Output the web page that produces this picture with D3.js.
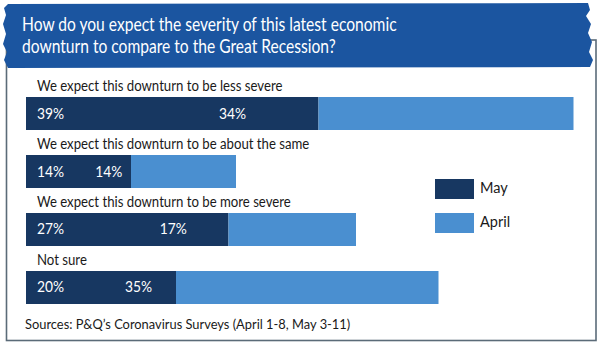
<!DOCTYPE html>
<html>
<head>
<meta charset="utf-8">
<script src="https://cdn.jsdelivr.net/npm/d3@7"></script>
<style>
  body { margin: 0; background: #fff; }
  text { font-family: Lato, "Open Sans", sans-serif; }
</style>
</head>
<body>
<div id="chart-area"></div>
<script>
// chart data
const categories = [
  "We expect this downturn to be less severe",
  "We expect this downturn to be about the same",
  "We expect this downturn to be more severe",
  "Not sure"
]
const mayValues = [39, 14, 27, 20]
const aprilValues = [34, 14, 17, 35]
const seriesNames = ["May", "April"]

const titleLines = [
  "How do you expect the severity of this latest economic",
  "downturn to compare to the Great Recession?"
]
const sourceText = "Sources: P&Q\u2019s Coronavirus Surveys (April 1-8, May 3-11)"

const WIDTH = 600
const HEIGHT = 346
const NAVY = "#173761"
const LIGHT = "#4a8fd0"
const HEADER = "#1b55a0"
// the original typeface is narrower than Lato, squeeze text a bit
const SQUEEZE = 0.88

const svg = d3.select("#chart-area").append("svg")
  .attr("width", WIDTH)
  .attr("height", HEIGHT)

// frame
svg.append("rect")
  .attr("x", 6.5)
  .attr("y", 40)
  .attr("width", 589.5)
  .attr("height", 300.5)
  .attr("fill", "#fff")
  .attr("stroke", "#5b6b78")
  .attr("stroke-width", 1.6)

// header band with rough brush edges
const header = d3.path()
header.moveTo(8, 4)
header.lineTo(588, 3)
const rightEdge = [[590, 10], [586, 16], [591, 24], [588, 33], [592, 42], [589, 52], [593, 60], [590, 67]]
rightEdge.forEach(p => header.lineTo(p[0], p[1]))
header.lineTo(8, 68)
const leftEdge = [[4, 60], [7, 52], [3, 44], [6, 34], [3, 24], [6, 15], [4, 8]]
leftEdge.forEach(p => header.lineTo(p[0], p[1]))
header.closePath()

svg.append("path")
  .attr("d", header.toString())
  .attr("fill", HEADER)

svg.selectAll(".title")
  .data(titleLines)
  .enter().append("text")
  .attr("class", "title")
  .attr("transform", (d, i) => `translate(22, ${31 + i * 22}) scale(0.8, 1)`)
  .attr("fill", "#fff")
  .attr("font-size", "19.5px")
  .text(d => d)

// scales
const x = d3.scaleLinear()
  .domain([0, 73])
  .range([26, 573.5])

const y = d3.scaleBand()
  .domain(categories)
  .range([97, 304])
  .paddingInner(0.431)
  .paddingOuter(0)

const rows = svg.selectAll(".row")
  .data(categories)
  .enter().append("g")
  .attr("class", "row")

rows.append("text")
  .attr("transform", d => `translate(37, ${y(d) - 6}) scale(${SQUEEZE}, 1)`)
  .attr("font-size", "15px")
  .attr("fill", "#1a1a1a")
  .text(d => d)

// May bars (start at zero)
rows.append("rect")
  .attr("x", x(0))
  .attr("y", d => y(d))
  .attr("width", (d, i) => x(mayValues[i]) - x(0))
  .attr("height", y.bandwidth())
  .attr("fill", NAVY)

// April bars (stacked after May)
rows.append("rect")
  .attr("x", (d, i) => x(mayValues[i]))
  .attr("y", d => y(d))
  .attr("width", (d, i) => x(mayValues[i] + aprilValues[i]) - x(mayValues[i]))
  .attr("height", y.bandwidth())
  .attr("fill", LIGHT)

// value labels, both inside the dark bar
rows.append("text")
  .attr("transform", d => `translate(37, ${y(d) + y.bandwidth() / 2 + 5}) scale(0.92, 1)`)
  .attr("font-size", "15px")
  .attr("fill", "#fff")
  .text((d, i) => mayValues[i] + "%")

rows.append("text")
  .attr("transform", (d, i) => `translate(${x(mayValues[i] * 0.66)}, ${y(d) + y.bandwidth() / 2 + 5}) scale(0.92, 1)`)
  .attr("font-size", "15px")
  .attr("fill", "#fff")
  .text((d, i) => aprilValues[i] + "%")

// legend
const legend = svg.selectAll(".legend")
  .data(seriesNames)
  .enter().append("g")
  .attr("class", "legend")
  .attr("transform", (d, i) => `translate(435, ${179 + i * 34})`)

legend.append("rect")
  .attr("width", 39)
  .attr("height", 20)
  .attr("fill", (d, i) => i === 0 ? NAVY : LIGHT)

legend.append("text")
  .attr("x", 45)
  .attr("y", 14)
  .attr("font-size", "14.5px")
  .attr("fill", "#1a1a1a")
  .text(d => d)

// source
svg.append("text")
  .attr("transform", `translate(25, 329) scale(0.92, 1)`)
  .attr("font-size", "14px")
  .attr("fill", "#1a1a1a")
  .text(sourceText)
</script>
</body>
</html>
